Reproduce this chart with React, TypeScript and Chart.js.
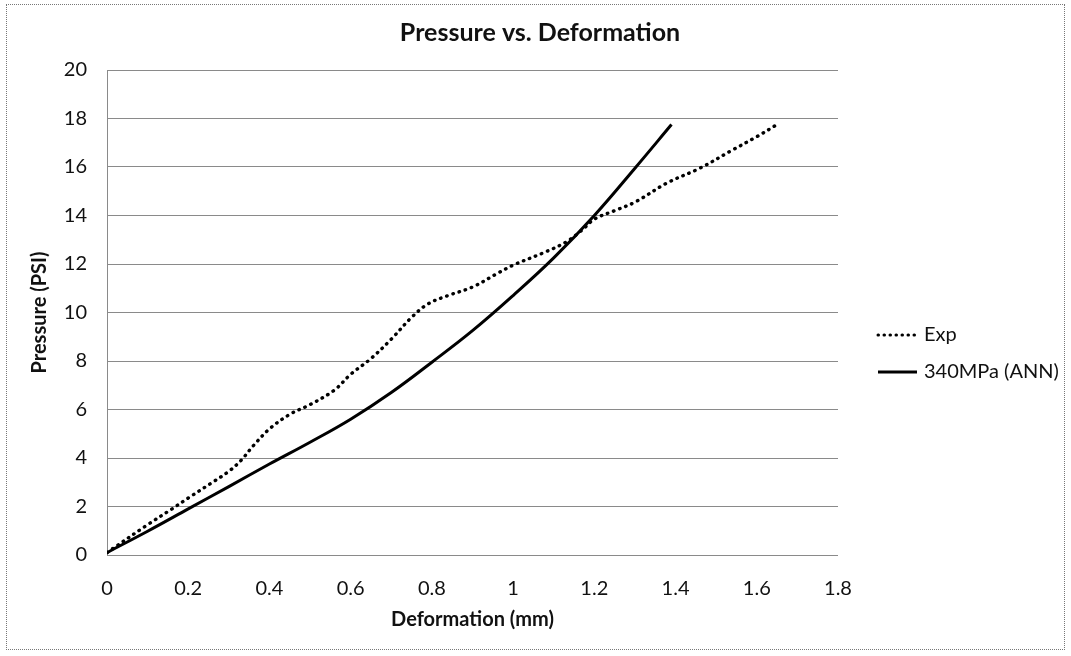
import React, { useEffect, useRef } from "react";
import { Chart, registerables } from "chart.js";

Chart.register(...registerables);

const chartTitle = "Pressure vs. Deformation";
const xTitle = "Deformation (mm)";
const yTitle = "Pressure (PSI)";
const seriesNames = ["Exp", "340MPa (ANN)"];

const expX = [0, 0.1, 0.16, 0.2, 0.26, 0.3, 0.33, 0.36, 0.4, 0.45, 0.5, 0.56, 0.6, 0.65, 0.7, 0.75, 0.79, 0.84, 0.9, 0.96, 1.0, 1.08, 1.13, 1.17, 1.2, 1.25, 1.3, 1.38, 1.46, 1.54, 1.6, 1.645];
const expY = [0.1, 1.25, 1.9, 2.35, 3.0, 3.45, 3.9, 4.5, 5.2, 5.8, 6.2, 6.8, 7.45, 8.1, 8.9, 9.8, 10.35, 10.7, 11.05, 11.6, 11.95, 12.5, 12.9, 13.4, 13.85, 14.2, 14.55, 15.35, 15.95, 16.7, 17.25, 17.7];

const annX = [0, 0.1, 0.2, 0.3, 0.4, 0.5, 0.6, 0.7, 0.8, 0.9, 1.0, 1.1, 1.2, 1.3, 1.39];
const annY = [0.1, 0.98, 1.9, 2.82, 3.75, 4.65, 5.6, 6.7, 7.95, 9.25, 10.7, 12.25, 14.0, 15.95, 17.75];

const xTicks = [0, 0.2, 0.4, 0.6, 0.8, 1, 1.2, 1.4, 1.6, 1.8];
const yTicks = [0, 2, 4, 6, 8, 10, 12, 14, 16, 18, 20];

const FONT = "Lato, 'Open Sans', sans-serif";

export default function App() {
  const canvasRef = useRef<HTMLCanvasElement | null>(null);

  useEffect(() => {
    const canvas = canvasRef.current;
    if (!canvas) return;

    const overlay = {
      id: "overlay",
      afterDraw(chart: any) {
        const ctx = chart.ctx;
        ctx.save();
        ctx.fillStyle = "#111";
        ctx.font = `bold 25px ${FONT}`;
        ctx.textAlign = "center";
        ctx.textBaseline = "middle";
        ctx.fillText(chartTitle, 540, 33);

        // legend
        const items = [
          { y: 335, dash: [0.5, 5.5], cap: "round", width: 3 },
          { y: 372, dash: [], cap: "butt", width: 3 },
        ];
        items.forEach((it, i) => {
          ctx.beginPath();
          ctx.strokeStyle = "#000";
          ctx.lineWidth = it.width;
          ctx.lineCap = it.cap;
          ctx.setLineDash(it.dash);
          ctx.moveTo(878, it.y);
          ctx.lineTo(917, it.y);
          ctx.stroke();
          ctx.setLineDash([]);
          ctx.font = `20px ${FONT}`;
          ctx.textAlign = "left";
          ctx.textBaseline = "middle";
          ctx.fillStyle = "#111";
          ctx.fillText(seriesNames[i], 924, it.y);
        });
        ctx.restore();
      },
    };

    const chart = new Chart(canvas, {
      type: "line",
      data: {
        datasets: [
          {
            label: seriesNames[0],
            data: expX.map((x, i) => ({ x, y: expY[i] })),
            borderColor: "#000",
            borderWidth: 3.4,
            borderDash: [0.5, 6],
            borderCapStyle: "round",
            pointRadius: 0,
            tension: 0.35,
            fill: false,
          },
          {
            label: seriesNames[1],
            data: annX.map((x, i) => ({ x, y: annY[i] })),
            borderColor: "#000",
            borderWidth: 3,
            pointRadius: 0,
            tension: 0.4,
            fill: false,
          },
        ],
      },
      options: {
        animation: false,
        responsive: false,
        maintainAspectRatio: false,
        layout: { padding: { top: 70, right: 233, bottom: 0, left: 0 } },
        plugins: {
          legend: { display: false },
          title: { display: false },
          tooltip: { enabled: false },
        },
        scales: {
          x: {
            type: "linear",
            min: 0,
            max: 1.8,
            afterFit: (s: any) => {
              s.height = 101;
            },
            afterBuildTicks: (s: any) => {
              s.ticks = xTicks.map((v) => ({ value: v }));
            },
            ticks: {
              padding: 22,
              color: "#111",
              font: { family: FONT, size: 20 },
              callback: (v: any) => String(Number(Number(v).toFixed(1))),
            },
            grid: { display: false, drawTicks: false },
            border: { display: false },
            title: {
              display: true,
              text: xTitle,
              color: "#111",
              font: { family: FONT, size: 20, weight: "bold" },
              padding: { top: 0, bottom: 24 },
            },
          },
          y: {
            type: "linear",
            min: 0,
            max: 20,
            afterFit: (s: any) => {
              s.width = 107;
            },
            afterBuildTicks: (s: any) => {
              s.ticks = yTicks.map((v) => ({ value: v }));
            },
            ticks: {
              padding: 20,
              color: "#111",
              font: { family: FONT, size: 20 },
            },
            grid: { color: "#8a8a8a", lineWidth: 1, drawTicks: false },
            border: { display: true, color: "#8a8a8a", width: 1 },
            title: {
              display: true,
              text: yTitle,
              color: "#111",
              font: { family: FONT, size: 20, weight: "bold" },
              padding: { top: 28, bottom: 0 },
            },
          },
        },
      } as any,
      plugins: [overlay],
    });

    return () => chart.destroy();
  }, []);

  return (
    <div
      style={{
        position: "fixed",
        left: 0,
        top: 0,
        width: 1071,
        height: 656,
        background: "#fff",
        overflow: "hidden",
      }}
    >
      <div
        style={{
          position: "absolute",
          left: 6,
          top: 4,
          width: 1059,
          height: 646,
          border: "1px dotted #777",
          boxSizing: "border-box",
        }}
      />
      <canvas
        ref={canvasRef}
        width={1071}
        height={656}
        style={{ position: "absolute", left: 0, top: 0, width: 1071, height: 656 }}
      />
    </div>
  );
}
